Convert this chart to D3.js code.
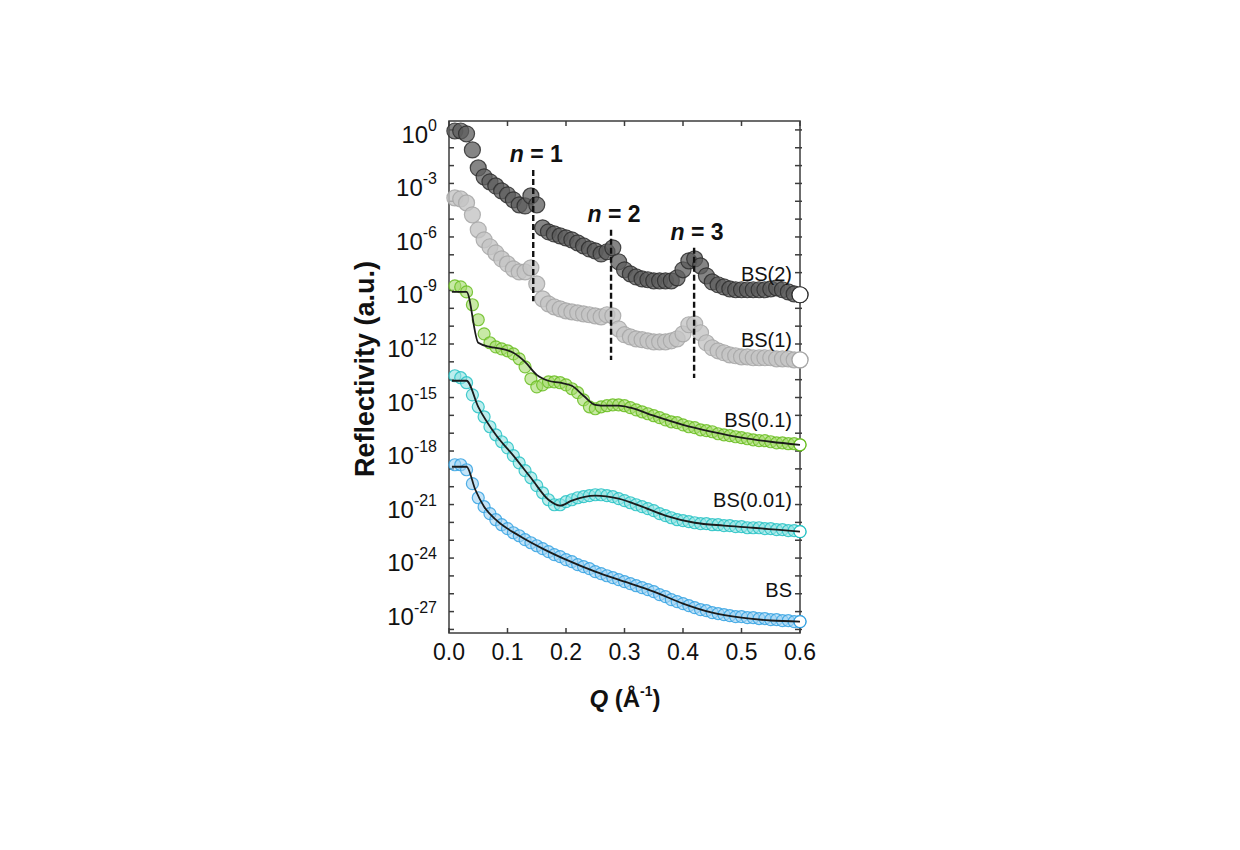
<!DOCTYPE html>
<html>
<head>
<meta charset="utf-8">
<script src="https://cdn.jsdelivr.net/npm/d3@7/dist/d3.min.js"></script>
<style>
  body { margin: 0; background: #fff; }
  text { font-family: "Liberation Sans", Arial, sans-serif; fill: #111; }
</style>
</head>
<body>
<svg id="chart" width="1240" height="850"></svg>
<script>
// Q values shared by all measured curves (1/A)
var q = [0.01,0.02,0.03,0.04,0.05,0.06,0.07,0.08,0.09,0.10,
         0.11,0.12,0.13,0.14,0.15,0.16,0.17,0.18,0.19,0.20,
         0.21,0.22,0.23,0.24,0.25,0.26,0.27,0.28,0.29,0.30,
         0.31,0.32,0.33,0.34,0.35,0.36,0.37,0.38,0.39,0.40,
         0.41,0.42,0.43,0.44,0.45,0.46,0.47,0.48,0.49,0.50,
         0.51,0.52,0.53,0.54,0.55,0.56,0.57,0.58,0.59,0.60];

// reflectivity exponents (log10 R, offset curves)
var bs2 = [-0.06,-0.06,-0.22,-1.12,-2.13,-2.63,-2.91,-3.14,-3.42,-3.64,
           -3.92,-4.2,-4.26,-3.7,-4.2,-5.49,-5.71,-5.83,-5.94,-6.05,
           -6.16,-6.33,-6.5,-6.67,-6.78,-6.95,-6.83,-6.61,-7.39,-7.84,
           -8.07,-8.24,-8.35,-8.4,-8.46,-8.46,-8.46,-8.46,-8.29,-7.84,
           -7.34,-7.23,-7.62,-8.18,-8.52,-8.68,-8.8,-8.91,-8.96,-8.96,
           -8.96,-8.96,-8.96,-8.96,-8.91,-8.85,-8.96,-9.08,-9.19,-9.24];
var bs1 = [-3.81,-3.87,-4.09,-4.76,-5.6,-6.16,-6.55,-6.89,-7.23,-7.51,
           -7.79,-7.96,-7.96,-7.73,-8.63,-9.47,-9.75,-9.92,-10.03,-10.14,
           -10.2,-10.25,-10.31,-10.36,-10.42,-10.48,-10.36,-10.42,-11.15,-11.48,
           -11.6,-11.71,-11.76,-11.82,-11.88,-11.88,-11.88,-11.82,-11.71,-11.43,
           -10.92,-10.87,-11.37,-11.93,-12.21,-12.38,-12.49,-12.61,-12.66,-12.72,
           -12.72,-12.77,-12.77,-12.77,-12.77,-12.83,-12.83,-12.83,-12.89,-12.89];
var bs01 = [-8.74,-8.8,-9.08,-9.8,-10.64,-11.43,-11.93,-12.16,-12.27,-12.38,
            -12.55,-12.83,-13.28,-13.95,-14.4,-14.29,-14.12,-14.12,-14.17,-14.29,
            -14.51,-14.73,-15.13,-15.52,-15.63,-15.52,-15.46,-15.41,-15.41,-15.46,
            -15.57,-15.69,-15.8,-15.91,-16.02,-16.13,-16.25,-16.36,-16.41,-16.53,
            -16.64,-16.69,-16.81,-16.86,-16.92,-17.03,-17.09,-17.14,-17.2,-17.25,
            -17.31,-17.37,-17.42,-17.42,-17.48,-17.54,-17.54,-17.59,-17.59,-17.65];
var bs001 = [-13.78,-13.89,-14.17,-14.85,-15.52,-16.08,-16.64,-17.09,-17.48,-17.82,
             -18.26,-18.66,-19.1,-19.5,-19.94,-20.34,-20.73,-21.01,-21.01,-20.84,
             -20.73,-20.62,-20.56,-20.5,-20.45,-20.45,-20.5,-20.56,-20.67,-20.78,
             -20.9,-21.01,-21.12,-21.23,-21.34,-21.51,-21.62,-21.74,-21.85,-21.9,
             -21.96,-22.02,-22.07,-22.07,-22.13,-22.13,-22.18,-22.18,-22.24,-22.24,
             -22.3,-22.3,-22.3,-22.35,-22.35,-22.41,-22.41,-22.46,-22.46,-22.52];
var bs = [-18.77,-18.77,-19.05,-19.83,-20.62,-21.12,-21.51,-21.85,-22.13,-22.35,
          -22.58,-22.75,-22.97,-23.14,-23.31,-23.47,-23.64,-23.81,-23.92,-24.09,
          -24.2,-24.37,-24.48,-24.59,-24.76,-24.87,-24.99,-25.1,-25.21,-25.32,
          -25.43,-25.55,-25.66,-25.77,-25.88,-26.05,-26.16,-26.33,-26.44,-26.55,
          -26.67,-26.78,-26.89,-26.95,-27.06,-27.11,-27.17,-27.23,-27.28,-27.28,
          -27.34,-27.34,-27.39,-27.39,-27.45,-27.45,-27.51,-27.51,-27.56,-27.56];

// model fits (black lines)
var fit01Q = [0.005,0.03,0.05,0.07,0.09,0.11,0.13,0.15,0.17,0.19,0.21,0.23,0.25,0.27,0.29,0.31,0.35,0.40,0.45,0.50,0.55,0.60];
var fit01 = [-9.08,-9.08,-11.93,-12.16,-12.27,-12.49,-13.0,-13.73,-14.06,-14.17,-14.34,-14.9,-15.41,-15.46,-15.46,-15.57,-16.02,-16.53,-16.92,-17.25,-17.48,-17.65];
var fit001Q = [0.005,0.03,0.05,0.08,0.11,0.14,0.17,0.19,0.21,0.25,0.29,0.33,0.37,0.42,0.47,0.52,0.56,0.60];
var fit001 = [-14.06,-14.06,-15.52,-17.09,-18.26,-19.5,-20.73,-21.06,-20.78,-20.5,-20.67,-21.12,-21.62,-22.02,-22.18,-22.3,-22.41,-22.52];
var fitBsQ = [0.005,0.03,0.045,0.06,0.08,0.12,0.16,0.20,0.25,0.30,0.35,0.40,0.45,0.50,0.55,0.60];
var fitBs = [-18.88,-18.88,-20.17,-21.12,-21.85,-22.75,-23.47,-24.09,-24.76,-25.32,-25.88,-26.55,-27.06,-27.34,-27.5,-27.56];

var seriesNames = ["BS(2)", "BS(1)", "BS(0.1)", "BS(0.01)", "BS"];
var labelExp = [-8.46, -12.16, -16.64, -21.12, -26.16];

// Bragg peak markers
var braggN = ["1", "2", "3"];
var braggQ = [0.144, 0.277, 0.419];
var braggTop = [-2.25, -5.6, -6.6];
var braggBottom = [-9.6, -12.9, -13.9];

var xTicks = [0, 0.1, 0.2, 0.3, 0.4, 0.5, 0.6];
var yLabelExp = [0, -3, -6, -9, -12, -15, -18, -21, -24, -27];

var svg = d3.select("#chart");
svg.append("rect").attr("width", 1240).attr("height", 850).attr("fill", "#fff");

var x = d3.scaleLinear().domain([0, 0.6]).range([449, 800]);
var y = d3.scaleLog().domain([Math.pow(10, -28.2), Math.pow(10, 0.5)]).range([633, 121]);
var pow = function(e) { return Math.pow(10, e); };

var styles = [
  {data: bs2,   stroke: "#2e2e2e", fill: "#5c5c5c", op: 0.75, r: 8},
  {data: bs1,   stroke: "#a6a6a6", fill: "#c4c4c4", op: 0.8,  r: 8},
  {data: bs01,  stroke: "#68bd20", fill: "#a3da6a", op: 0.6,  r: 6},
  {data: bs001, stroke: "#26c2c4", fill: "#8fe3e3", op: 0.6,  r: 6},
  {data: bs,    stroke: "#34a2e2", fill: "#9dd2f3", op: 0.6,  r: 6}
];

// frame ticks, inward on all four sides
var frame = svg.append("g").attr("stroke", "#3c3c3c").attr("stroke-width", 1.5);
d3.range(-28, 1).forEach(function(e) {
  var yy = y(pow(e));
  frame.append("line").attr("x1", 449).attr("x2", 454).attr("y1", yy).attr("y2", yy);
  frame.append("line").attr("x1", 795).attr("x2", 802).attr("y1", yy).attr("y2", yy);
});
xTicks.forEach(function(t) {
  frame.append("line").attr("x1", x(t)).attr("x2", x(t)).attr("y1", 633).attr("y2", 628);
  frame.append("line").attr("x1", x(t)).attr("x2", x(t)).attr("y1", 121).attr("y2", 126);
});

// measured points as stacked open circles
styles.forEach(function(s) {
  var pts = q.map(function(v, i) { return [v, pow(s.data[i])]; });
  var g = svg.append("g");
  g.selectAll("circle").data(pts).enter().append("circle")
    .attr("cx", function(d) { return x(d[0]); })
    .attr("cy", function(d) { return y(d[1]); })
    .attr("r", s.r)
    .attr("fill", s.fill).attr("fill-opacity", s.op)
    .attr("stroke", s.stroke).attr("stroke-width", 1.2).attr("stroke-opacity", 0.85);
  var last = pts[pts.length - 1];
  g.append("circle")
    .attr("cx", x(last[0])).attr("cy", y(last[1])).attr("r", s.r)
    .attr("fill", "#fff").attr("stroke", s.stroke).attr("stroke-width", 1.2);
});

// fits
var line = d3.line()
  .x(function(d) { return x(d[0]); })
  .y(function(d) { return y(d[1]); })
  .curve(d3.curveMonotoneX);
[[fit01Q, fit01], [fit001Q, fit001], [fitBsQ, fitBs]].forEach(function(f) {
  var pts = f[0].map(function(v, i) { return [v, pow(f[1][i])]; });
  svg.append("path").datum(pts).attr("d", line)
    .attr("fill", "none").attr("stroke", "#1b1b1b").attr("stroke-width", 1.8);
});

frame.append("rect").attr("x", 449).attr("y", 121).attr("width", 351).attr("height", 512)
  .attr("fill", "none");

// Bragg order dashed lines
braggQ.forEach(function(bq, i) {
  svg.append("line")
    .attr("x1", x(bq)).attr("x2", x(bq))
    .attr("y1", y(pow(braggTop[i]))).attr("y2", y(pow(braggBottom[i])))
    .attr("stroke", "#111").attr("stroke-width", 2.4).attr("stroke-dasharray", "6,3");
  var t = svg.append("text")
    .attr("x", x(bq) + 3).attr("y", y(pow(braggTop[i])) - 8)
    .attr("text-anchor", "middle").attr("font-size", 23).attr("font-weight", "bold");
  t.append("tspan").attr("font-style", "italic").text("n");
  t.append("tspan").text(" = " + braggN[i]);
});

// series labels
seriesNames.forEach(function(name, i) {
  svg.append("text")
    .attr("x", 792).attr("y", y(pow(labelExp[i])))
    .attr("text-anchor", "end").attr("font-size", 20).attr("fill", "#222")
    .text(name);
});

// y tick labels 10^n
yLabelExp.forEach(function(e) {
  var t = svg.append("text")
    .attr("x", 437).attr("y", y(pow(e)) + 13)
    .attr("text-anchor", "end").attr("font-size", 24);
  t.append("tspan").text("10");
  t.append("tspan").attr("dy", -12).attr("font-size", 16).text(e === 0 ? "0" : "-" + Math.abs(e));
});

// x tick labels
xTicks.forEach(function(t) {
  svg.append("text")
    .attr("x", x(t)).attr("y", 660)
    .attr("text-anchor", "middle").attr("font-size", 23)
    .text(d3.format(".1f")(t));
});

// axis titles
svg.append("text")
  .attr("transform", "translate(374,369) rotate(-90)")
  .attr("text-anchor", "middle").attr("font-size", 27).attr("font-weight", "bold")
  .text("Reflectivity (a.u.)");

var xt = svg.append("text")
  .attr("x", 625).attr("y", 707)
  .attr("text-anchor", "middle").attr("font-size", 24).attr("font-weight", "bold");
xt.append("tspan").attr("font-style", "italic").text("Q");
xt.append("tspan").text(" (\u00C5");
xt.append("tspan").attr("dy", -11).attr("font-size", 14).text("-1");
xt.append("tspan").attr("dy", 11).text(")");
</script>
</body>
</html>
